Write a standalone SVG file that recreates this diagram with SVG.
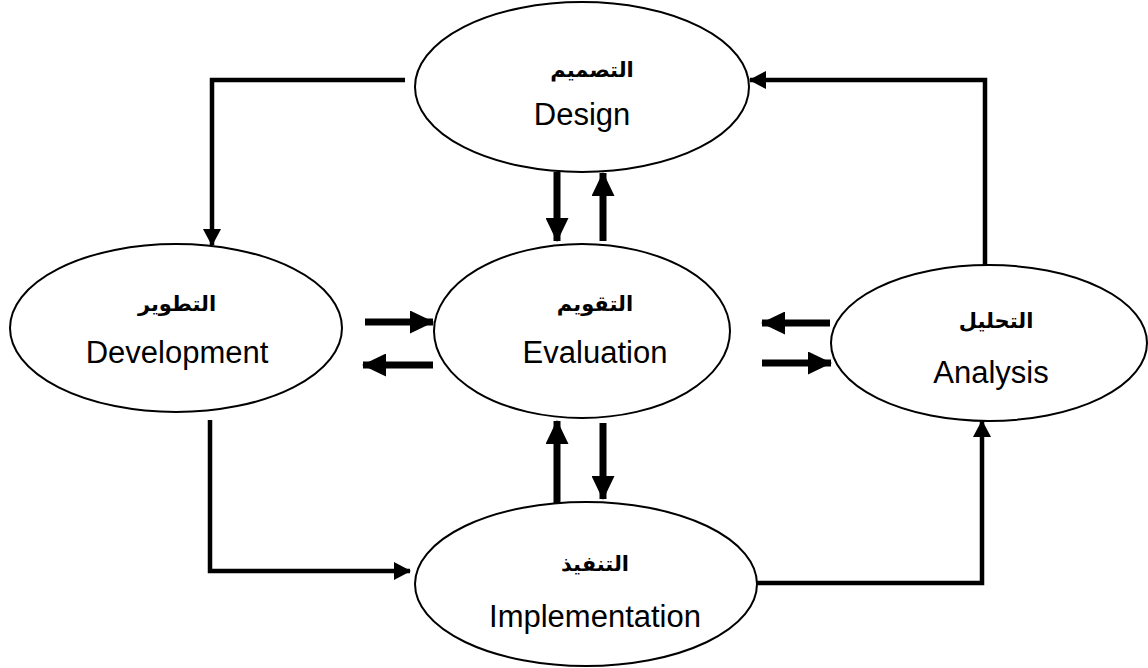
<svg xmlns="http://www.w3.org/2000/svg" width="1148" height="668" viewBox="0 0 1148 668">
<style>
.node{fill:#fff;stroke:#000;stroke-width:2}
.en{font-family:"Liberation Sans",Arial,sans-serif;font-size:31px;fill:#000;text-anchor:middle}
.ar{font-family:"DejaVu Sans","Noto Sans",sans-serif;font-size:21px;font-weight:bold;fill:#000;text-anchor:middle}
.thin{fill:none;stroke:#000;stroke-width:4.5}
.thick{fill:none;stroke:#000;stroke-width:7}
</style>
<defs>
<marker id="hs" markerWidth="17" markerHeight="18" refX="16" refY="9" orient="auto" markerUnits="userSpaceOnUse"><path d="M0,0 L17,9 L0,18 Z" fill="#000"/></marker>
<marker id="hb" markerWidth="24" markerHeight="23" refX="23" refY="11.5" orient="auto" markerUnits="userSpaceOnUse"><path d="M0,0 L24,11.5 L0,23 Z" fill="#000"/></marker>
</defs>
<g id="connectors">
<polyline class="thin" points="405,80 212,80 212,245" marker-end="url(#hs)"/>
<polyline class="thin" points="985,265 985,80 750,80" marker-end="url(#hs)"/>
<polyline class="thin" points="210,420 210,571 410,571" marker-end="url(#hs)"/>
<polyline class="thin" points="748,583 982,583 982,421" marker-end="url(#hs)"/>
<line class="thick" x1="557" y1="172" x2="557" y2="241" marker-end="url(#hb)"/>
<line class="thick" x1="603" y1="241" x2="603" y2="173" marker-end="url(#hb)"/>
<line class="thick" x1="365" y1="322" x2="433" y2="322" marker-end="url(#hb)"/>
<line class="thick" x1="433" y1="365" x2="363" y2="365" marker-end="url(#hb)"/>
<line class="thick" x1="830" y1="323" x2="762" y2="323" marker-end="url(#hb)"/>
<line class="thick" x1="762" y1="363" x2="831" y2="363" marker-end="url(#hb)"/>
<line class="thick" x1="557" y1="508" x2="557" y2="421" marker-end="url(#hb)"/>
<line class="thick" x1="603" y1="423" x2="603" y2="499" marker-end="url(#hb)"/>
</g>
<g id="design">
<ellipse class="node" cx="582" cy="87" rx="167" ry="85"/>
<text class="ar" x="592" y="77">التصميم</text>
<text class="en" x="582" y="125">Design</text>
</g>
<g id="evaluation">
<ellipse class="node" cx="582" cy="331" rx="148" ry="87"/>
<text class="ar" x="595" y="311">التقويم</text>
<text class="en" x="595" y="363">Evaluation</text>
</g>
<g id="development">
<ellipse class="node" cx="176" cy="328" rx="166" ry="84"/>
<text class="ar" x="177" y="311">التطوير</text>
<text class="en" x="177" y="363">Development</text>
</g>
<g id="analysis">
<ellipse class="node" cx="989" cy="343" rx="158" ry="78"/>
<text class="ar" x="996" y="328">التحليل</text>
<text class="en" x="991" y="383">Analysis</text>
</g>
<g id="implementation">
<ellipse class="node" cx="586" cy="584" rx="171" ry="82"/>
<text class="ar" x="595" y="571">التنفيذ</text>
<text class="en" x="595" y="627">Implementation</text>
</g>
</svg>
